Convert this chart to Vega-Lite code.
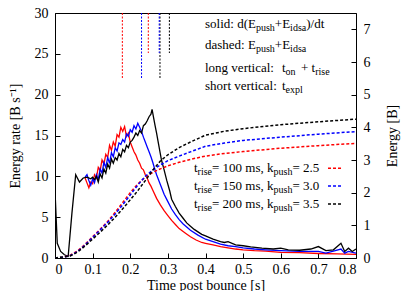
{
  "$schema": "https://vega.github.io/schema/vega-lite/v6.json",
  "width": 301,
  "height": 245,
  "autosize": {"type": "none"},
  "padding": {"left": 55, "top": 13, "right": 59, "bottom": 33},
  "background": "white",
  "config": {
    "view": {"stroke": "black", "strokeWidth": 1},
    "font": "Liberation Serif, Times New Roman, serif",
    "text": {"font": "Liberation Serif, Times New Roman, serif"},
    "axis": {
      "grid": false,
      "domainColor": "black",
      "tickColor": "black",
      "tickSize": -5,
      "labelFont": "Liberation Serif, Times New Roman, serif",
      "labelFontSize": 14,
      "labelColor": "black",
      "titleFont": "Liberation Serif, Times New Roman, serif",
      "titleFontSize": 14,
      "titleFontWeight": "normal",
      "titleColor": "black"
    }
  },
  "datasets": {
    "rate": [
      {"t":0.08,"r":9.8,"s":"a"},{"t":0.085,"r":9.2,"s":"a"},{"t":0.09,"r":8.6,"s":"a"},{"t":0.095,"r":9.3,"s":"a"},{"t":0.1,"r":9.1,"s":"a"},{"t":0.105,"r":10.2,"s":"a"},{"t":0.11,"r":9.8,"s":"a"},{"t":0.115,"r":11.1,"s":"a"},{"t":0.12,"r":10.7,"s":"a"},{"t":0.125,"r":12.0,"s":"a"},{"t":0.13,"r":11.5,"s":"a"},{"t":0.135,"r":12.7,"s":"a"},{"t":0.14,"r":12.3,"s":"a"},{"t":0.145,"r":13.8,"s":"a"},{"t":0.15,"r":13.2,"s":"a"},{"t":0.155,"r":14.2,"s":"a"},{"t":0.16,"r":13.7,"s":"a"},{"t":0.165,"r":15.1,"s":"a"},{"t":0.17,"r":14.8,"s":"a"},{"t":0.175,"r":16.0,"s":"a"},{"t":0.18,"r":15.5,"s":"a"},{"t":0.185,"r":16.1,"s":"a"},{"t":0.19,"r":14.9,"s":"a"},{"t":0.195,"r":15.3,"s":"a"},{"t":0.2,"r":14.2,"s":"a"},{"t":0.205,"r":13.6,"s":"a"},{"t":0.21,"r":13.0,"s":"a"},{"t":0.215,"r":12.6,"s":"a"},{"t":0.22,"r":12.0,"s":"a"},{"t":0.225,"r":11.6,"s":"a"},{"t":0.23,"r":11.0,"s":"a"},{"t":0.235,"r":10.8,"s":"a"},{"t":0.24,"r":10.2,"s":"a"},{"t":0.245,"r":9.8,"s":"a"},{"t":0.25,"r":9.2,"s":"a"},{"t":0.255,"r":8.8,"s":"a"},{"t":0.26,"r":8.3,"s":"a"},{"t":0.27,"r":7.3,"s":"a"},{"t":0.28,"r":6.5,"s":"a"},{"t":0.29,"r":5.8,"s":"a"},{"t":0.3,"r":5.2,"s":"a"},{"t":0.31,"r":4.6,"s":"a"},{"t":0.32,"r":4.1,"s":"a"},{"t":0.33,"r":3.6,"s":"a"},{"t":0.345,"r":3.1,"s":"a"},{"t":0.36,"r":2.6,"s":"a"},{"t":0.375,"r":2.2,"s":"a"},{"t":0.39,"r":1.9,"s":"a"},{"t":0.4,"r":1.8,"s":"a"},{"t":0.42,"r":1.6,"s":"a"},{"t":0.44,"r":1.4,"s":"a"},{"t":0.46,"r":1.25,"s":"a"},{"t":0.48,"r":1.1,"s":"a"},{"t":0.5,"r":1.0,"s":"a"},{"t":0.53,"r":0.9,"s":"a"},{"t":0.56,"r":0.85,"s":"a"},{"t":0.6,"r":0.7,"s":"a"},{"t":0.65,"r":0.65,"s":"a"},{"t":0.7,"r":0.55,"s":"a"},{"t":0.75,"r":0.5,"s":"a"},{"t":0.8,"r":0.45,"s":"a"},
      {"t":0.08,"r":9.9,"s":"b"},{"t":0.085,"r":10.2,"s":"b"},{"t":0.09,"r":9.5,"s":"b"},{"t":0.095,"r":8.9,"s":"b"},{"t":0.1,"r":9.7,"s":"b"},{"t":0.105,"r":9.2,"s":"b"},{"t":0.11,"r":10.2,"s":"b"},{"t":0.115,"r":9.6,"s":"b"},{"t":0.12,"r":10.9,"s":"b"},{"t":0.125,"r":10.4,"s":"b"},{"t":0.13,"r":11.7,"s":"b"},{"t":0.135,"r":11.1,"s":"b"},{"t":0.14,"r":12.3,"s":"b"},{"t":0.145,"r":11.6,"s":"b"},{"t":0.15,"r":12.9,"s":"b"},{"t":0.155,"r":12.4,"s":"b"},{"t":0.16,"r":13.5,"s":"b"},{"t":0.165,"r":13.1,"s":"b"},{"t":0.17,"r":14.1,"s":"b"},{"t":0.175,"r":13.9,"s":"b"},{"t":0.18,"r":14.5,"s":"b"},{"t":0.185,"r":14.2,"s":"b"},{"t":0.19,"r":15.2,"s":"b"},{"t":0.195,"r":14.9,"s":"b"},{"t":0.2,"r":15.7,"s":"b"},{"t":0.205,"r":15.4,"s":"b"},{"t":0.21,"r":16.2,"s":"b"},{"t":0.215,"r":15.8,"s":"b"},{"t":0.22,"r":16.5,"s":"b"},{"t":0.225,"r":16.0,"s":"b"},{"t":0.23,"r":15.5,"s":"b"},{"t":0.235,"r":14.8,"s":"b"},{"t":0.24,"r":14.2,"s":"b"},{"t":0.245,"r":13.6,"s":"b"},{"t":0.25,"r":13.0,"s":"b"},{"t":0.255,"r":12.4,"s":"b"},{"t":0.26,"r":11.7,"s":"b"},{"t":0.265,"r":10.9,"s":"b"},{"t":0.27,"r":10.2,"s":"b"},{"t":0.28,"r":9.0,"s":"b"},{"t":0.29,"r":7.8,"s":"b"},{"t":0.3,"r":6.9,"s":"b"},{"t":0.31,"r":6.0,"s":"b"},{"t":0.32,"r":5.3,"s":"b"},{"t":0.33,"r":4.7,"s":"b"},{"t":0.34,"r":4.2,"s":"b"},{"t":0.35,"r":3.8,"s":"b"},{"t":0.36,"r":3.4,"s":"b"},{"t":0.38,"r":2.8,"s":"b"},{"t":0.4,"r":2.3,"s":"b"},{"t":0.42,"r":2.0,"s":"b"},{"t":0.44,"r":1.7,"s":"b"},{"t":0.46,"r":1.5,"s":"b"},{"t":0.48,"r":1.4,"s":"b"},{"t":0.5,"r":1.25,"s":"b"},{"t":0.53,"r":1.1,"s":"b"},{"t":0.56,"r":1.0,"s":"b"},{"t":0.6,"r":0.9,"s":"b"},{"t":0.65,"r":0.8,"s":"b"},{"t":0.7,"r":0.8,"s":"b"},{"t":0.72,"r":0.6,"s":"b"},{"t":0.74,"r":0.85,"s":"b"},{"t":0.76,"r":1.1,"s":"b"},{"t":0.77,"r":0.6,"s":"b"},{"t":0.78,"r":0.8,"s":"b"},{"t":0.8,"r":0.6,"s":"b"},
      {"t":0,"r":8.3,"s":"c"},{"t":0.003,"r":5.0,"s":"c"},{"t":0.006,"r":1.8,"s":"c"},{"t":0.015,"r":0.8,"s":"c"},{"t":0.025,"r":0.4,"s":"c"},{"t":0.035,"r":0.2,"s":"c"},{"t":0.045,"r":5.5,"s":"c"},{"t":0.055,"r":10.2,"s":"c"},{"t":0.065,"r":9.3,"s":"c"},{"t":0.075,"r":9.8,"s":"c"},{"t":0.085,"r":9.9,"s":"c"},{"t":0.095,"r":9.7,"s":"c"},{"t":0.1,"r":9.9,"s":"c"},{"t":0.105,"r":9.6,"s":"c"},{"t":0.11,"r":10.0,"s":"c"},{"t":0.115,"r":9.3,"s":"c"},{"t":0.12,"r":10.3,"s":"c"},{"t":0.125,"r":9.8,"s":"c"},{"t":0.13,"r":10.9,"s":"c"},{"t":0.135,"r":10.4,"s":"c"},{"t":0.14,"r":11.5,"s":"c"},{"t":0.145,"r":11.0,"s":"c"},{"t":0.15,"r":12.1,"s":"c"},{"t":0.155,"r":11.6,"s":"c"},{"t":0.16,"r":12.3,"s":"c"},{"t":0.165,"r":12.0,"s":"c"},{"t":0.17,"r":12.8,"s":"c"},{"t":0.175,"r":12.4,"s":"c"},{"t":0.18,"r":13.3,"s":"c"},{"t":0.185,"r":13.0,"s":"c"},{"t":0.19,"r":13.8,"s":"c"},{"t":0.195,"r":13.5,"s":"c"},{"t":0.2,"r":14.2,"s":"c"},{"t":0.205,"r":14.4,"s":"c"},{"t":0.21,"r":14.8,"s":"c"},{"t":0.215,"r":15.3,"s":"c"},{"t":0.22,"r":15.0,"s":"c"},{"t":0.225,"r":15.6,"s":"c"},{"t":0.23,"r":15.3,"s":"c"},{"t":0.235,"r":16.2,"s":"c"},{"t":0.24,"r":16.4,"s":"c"},{"t":0.245,"r":16.8,"s":"c"},{"t":0.25,"r":17.3,"s":"c"},{"t":0.255,"r":17.6,"s":"c"},{"t":0.258,"r":18.2,"s":"c"},{"t":0.262,"r":17.2,"s":"c"},{"t":0.266,"r":16.2,"s":"c"},{"t":0.27,"r":15.3,"s":"c"},{"t":0.275,"r":14.0,"s":"c"},{"t":0.283,"r":12.0,"s":"c"},{"t":0.29,"r":10.8,"s":"c"},{"t":0.297,"r":9.5,"s":"c"},{"t":0.305,"r":8.2,"s":"c"},{"t":0.31,"r":7.2,"s":"c"},{"t":0.32,"r":6.3,"s":"c"},{"t":0.33,"r":5.5,"s":"c"},{"t":0.34,"r":4.9,"s":"c"},{"t":0.35,"r":4.3,"s":"c"},{"t":0.36,"r":3.9,"s":"c"},{"t":0.37,"r":3.5,"s":"c"},{"t":0.38,"r":3.2,"s":"c"},{"t":0.39,"r":2.9,"s":"c"},{"t":0.4,"r":2.7,"s":"c"},{"t":0.42,"r":2.3,"s":"c"},{"t":0.44,"r":2.0,"s":"c"},{"t":0.45,"r":1.9,"s":"c"},{"t":0.46,"r":2.0,"s":"c"},{"t":0.48,"r":1.6,"s":"c"},{"t":0.5,"r":1.5,"s":"c"},{"t":0.52,"r":1.35,"s":"c"},{"t":0.55,"r":1.2,"s":"c"},{"t":0.58,"r":1.1,"s":"c"},{"t":0.6,"r":1.2,"s":"c"},{"t":0.62,"r":1.0,"s":"c"},{"t":0.65,"r":0.95,"s":"c"},{"t":0.68,"r":1.1,"s":"c"},{"t":0.7,"r":1.4,"s":"c"},{"t":0.72,"r":0.9,"s":"c"},{"t":0.74,"r":1.0,"s":"c"},{"t":0.76,"r":1.8,"s":"c"},{"t":0.77,"r":0.8,"s":"c"},{"t":0.78,"r":1.2,"s":"c"},{"t":0.79,"r":0.8,"s":"c"},{"t":0.8,"r":1.1,"s":"c"}
    ],
    "energy": [
      {"t":0,"e":0,"s":"a"},{"t":0.02,"e":0.02,"s":"a"},{"t":0.04,"e":0.08,"s":"a"},{"t":0.06,"e":0.22,"s":"a"},{"t":0.08,"e":0.42,"s":"a"},{"t":0.1,"e":0.65,"s":"a"},{"t":0.12,"e":0.88,"s":"a"},{"t":0.14,"e":1.12,"s":"a"},{"t":0.16,"e":1.4,"s":"a"},{"t":0.18,"e":1.7,"s":"a"},{"t":0.2,"e":2.0,"s":"a"},{"t":0.22,"e":2.27,"s":"a"},{"t":0.24,"e":2.47,"s":"a"},{"t":0.26,"e":2.62,"s":"a"},{"t":0.28,"e":2.73,"s":"a"},{"t":0.3,"e":2.82,"s":"a"},{"t":0.33,"e":2.93,"s":"a"},{"t":0.36,"e":3.02,"s":"a"},{"t":0.4,"e":3.12,"s":"a"},{"t":0.45,"e":3.2,"s":"a"},{"t":0.5,"e":3.26,"s":"a"},{"t":0.6,"e":3.36,"s":"a"},{"t":0.7,"e":3.44,"s":"a"},{"t":0.8,"e":3.51,"s":"a"},
      {"t":0,"e":0,"s":"b"},{"t":0.02,"e":0.02,"s":"b"},{"t":0.04,"e":0.07,"s":"b"},{"t":0.06,"e":0.2,"s":"b"},{"t":0.08,"e":0.4,"s":"b"},{"t":0.1,"e":0.63,"s":"b"},{"t":0.12,"e":0.86,"s":"b"},{"t":0.14,"e":1.09,"s":"b"},{"t":0.16,"e":1.35,"s":"b"},{"t":0.18,"e":1.63,"s":"b"},{"t":0.2,"e":1.93,"s":"b"},{"t":0.22,"e":2.23,"s":"b"},{"t":0.24,"e":2.5,"s":"b"},{"t":0.26,"e":2.7,"s":"b"},{"t":0.28,"e":2.85,"s":"b"},{"t":0.3,"e":2.98,"s":"b"},{"t":0.33,"e":3.12,"s":"b"},{"t":0.36,"e":3.25,"s":"b"},{"t":0.4,"e":3.42,"s":"b"},{"t":0.45,"e":3.52,"s":"b"},{"t":0.5,"e":3.6,"s":"b"},{"t":0.6,"e":3.7,"s":"b"},{"t":0.7,"e":3.79,"s":"b"},{"t":0.8,"e":3.87,"s":"b"},
      {"t":0,"e":0,"s":"c"},{"t":0.02,"e":0.03,"s":"c"},{"t":0.04,"e":0.06,"s":"c"},{"t":0.06,"e":0.18,"s":"c"},{"t":0.08,"e":0.37,"s":"c"},{"t":0.1,"e":0.58,"s":"c"},{"t":0.12,"e":0.79,"s":"c"},{"t":0.14,"e":1.01,"s":"c"},{"t":0.16,"e":1.25,"s":"c"},{"t":0.18,"e":1.51,"s":"c"},{"t":0.2,"e":1.78,"s":"c"},{"t":0.22,"e":2.06,"s":"c"},{"t":0.24,"e":2.37,"s":"c"},{"t":0.26,"e":2.69,"s":"c"},{"t":0.28,"e":2.97,"s":"c"},{"t":0.3,"e":3.16,"s":"c"},{"t":0.33,"e":3.38,"s":"c"},{"t":0.36,"e":3.55,"s":"c"},{"t":0.4,"e":3.76,"s":"c"},{"t":0.45,"e":3.88,"s":"c"},{"t":0.5,"e":3.96,"s":"c"},{"t":0.6,"e":4.08,"s":"c"},{"t":0.7,"e":4.17,"s":"c"},{"t":0.8,"e":4.25,"s":"c"}
    ],
    "vlines": [
      {"x":0.179,"top":30,"bot":22.0,"s":"a"},
      {"x":0.230,"top":30,"bot":22.0,"s":"b"},
      {"x":0.279,"top":30,"bot":22.0,"s":"c"},
      {"x":0.248,"top":30,"bot":25.1,"s":"a"},
      {"x":0.277,"top":30,"bot":25.1,"s":"b"},
      {"x":0.304,"top":30,"bot":25.1,"s":"c"}
    ],
    "samples": [
      {"x1":0.7256,"x2":0.7628,"y":11.0,"s":"a"},
      {"x1":0.7256,"x2":0.7628,"y":8.81,"s":"b"},
      {"x1":0.7256,"x2":0.7628,"y":6.61,"s":"c"}
    ],
    "labels": [
      {"x":0.3987,"y":28.15,"txt":"solid: d(E","k":"m"},
      {"x":0.5842,"y":28.15,"txt":"+E","k":"m"},
      {"x":0.6676,"y":28.15,"txt":")/dt","k":"m"},
      {"x":0.534,"y":27.75,"txt":"push","k":"s"},
      {"x":0.6249,"y":27.75,"txt":"idsa","k":"s"},
      {"x":0.3987,"y":25.58,"txt":"dashed: E","k":"m"},
      {"x":0.5842,"y":25.58,"txt":"+E","k":"m"},
      {"x":0.534,"y":25.18,"txt":"push","k":"s"},
      {"x":0.6249,"y":25.18,"txt":"idsa","k":"s"},
      {"x":0.3987,"y":22.77,"txt":"long vertical:","k":"m"},
      {"x":0.6033,"y":22.77,"txt":"t","k":"m"},
      {"x":0.6538,"y":22.77,"txt":"+ t","k":"m"},
      {"x":0.6129,"y":22.37,"txt":"on","k":"s"},
      {"x":0.6915,"y":22.37,"txt":"rise","k":"s"},
      {"x":0.3987,"y":20.56,"txt":"short vertical:","k":"m"},
      {"x":0.6033,"y":20.56,"txt":"t","k":"m"},
      {"x":0.6129,"y":20.16,"txt":"expl","k":"s"},
      {"x":0.3694,"y":10.53,"txt":"t","k":"m"},
      {"x":0.4173,"y":10.53,"txt":"= 100 ms, k","k":"m"},
      {"x":0.631,"y":10.53,"txt":"= 2.5","k":"m"},
      {"x":0.379,"y":10.13,"txt":"rise","k":"s"},
      {"x":0.5807,"y":10.13,"txt":"push","k":"s"},
      {"x":0.3694,"y":8.32,"txt":"t","k":"m"},
      {"x":0.4173,"y":8.32,"txt":"= 150 ms, k","k":"m"},
      {"x":0.631,"y":8.32,"txt":"= 3.0","k":"m"},
      {"x":0.379,"y":7.92,"txt":"rise","k":"s"},
      {"x":0.5807,"y":7.92,"txt":"push","k":"s"},
      {"x":0.3694,"y":6.12,"txt":"t","k":"m"},
      {"x":0.4173,"y":6.12,"txt":"= 200 ms, k","k":"m"},
      {"x":0.631,"y":6.12,"txt":"= 3.5","k":"m"},
      {"x":0.379,"y":5.72,"txt":"rise","k":"s"},
      {"x":0.5807,"y":5.72,"txt":"push","k":"s"}
    ]
  },
  "layer": [
    {
      "layer": [
        {
          "data": {"name": "rate"},
          "mark": {"type": "line", "strokeWidth": 1.3, "clip": true},
          "encoding": {
            "x": {"field": "t", "type": "quantitative", "title": "Time post bounce [s]",
                  "scale": {"domain": [0, 0.8], "nice": false},
                  "axis": {"tickCount": 8, "labelPadding": 9, "titlePadding": 2,
                           "labelExpr": "datum.value == 0 ? '0' : format(datum.value, '.1f')"}},
            "y": {"field": "r", "type": "quantitative", "title": "Energy rate [B s⁻¹]",
                  "scale": {"domain": [0, 30], "nice": false},
                  "axis": {"orient": "left", "tickCount": 6, "labelPadding": 12, "titlePadding": 12}},
            "color": {"field": "s", "type": "nominal", "legend": null,
                      "scale": {"domain": ["a", "b", "c"], "range": ["#ff0000", "#0000ff", "#000000"]}}
          }
        },
        {
          "data": {"name": "vlines"},
          "mark": {"type": "rule", "strokeWidth": 1, "strokeDash": [2, 1.5]},
          "encoding": {
            "x": {"field": "x", "type": "quantitative", "title": "Time post bounce [s]"},
            "y": {"field": "top", "type": "quantitative", "title": "Energy rate [B s⁻¹]"},
            "y2": {"field": "bot"},
            "color": {"field": "s", "type": "nominal", "legend": null}
          }
        },
        {
          "data": {"name": "samples"},
          "mark": {"type": "rule", "strokeWidth": 1.5, "strokeDash": [3, 2]},
          "encoding": {
            "x": {"field": "x1", "type": "quantitative", "title": "Time post bounce [s]"},
            "x2": {"field": "x2"},
            "y": {"field": "y", "type": "quantitative", "title": "Energy rate [B s⁻¹]"},
            "color": {"field": "s", "type": "nominal", "legend": null}
          }
        },
        {
          "data": {"name": "labels"},
          "transform": [{"filter": "datum.k == 'm'"}],
          "mark": {"type": "text", "align": "left", "baseline": "alphabetic", "font": "Liberation Serif, Times New Roman, serif", "fontSize": 13, "color": "black"},
          "encoding": {
            "x": {"field": "x", "type": "quantitative", "title": "Time post bounce [s]"},
            "y": {"field": "y", "type": "quantitative", "title": "Energy rate [B s⁻¹]"},
            "text": {"field": "txt"}
          }
        },
        {
          "data": {"name": "labels"},
          "transform": [{"filter": "datum.k == 's'"}],
          "mark": {"type": "text", "align": "left", "baseline": "alphabetic", "font": "Liberation Serif, Times New Roman, serif", "fontSize": 10, "color": "black"},
          "encoding": {
            "x": {"field": "x", "type": "quantitative", "title": "Time post bounce [s]"},
            "y": {"field": "y", "type": "quantitative", "title": "Energy rate [B s⁻¹]"},
            "text": {"field": "txt"}
          }
        }
      ]
    },
    {
      "data": {"name": "energy"},
      "mark": {"type": "line", "strokeWidth": 1.5, "strokeDash": [3, 2], "clip": true},
      "encoding": {
        "x": {"field": "t", "type": "quantitative", "title": "Time post bounce [s]"},
        "y": {"field": "e", "type": "quantitative", "title": "Energy [B]",
              "scale": {"domain": [0, 7.5], "nice": false},
              "axis": {"orient": "right", "tickCount": 8, "labelPadding": 12, "titlePadding": 15, "titleAngle": 270, "titleBaseline": "top"}},
        "color": {"field": "s", "type": "nominal", "legend": null}
      }
    }
  ],
  "resolve": {"scale": {"y": "independent"}}
}
